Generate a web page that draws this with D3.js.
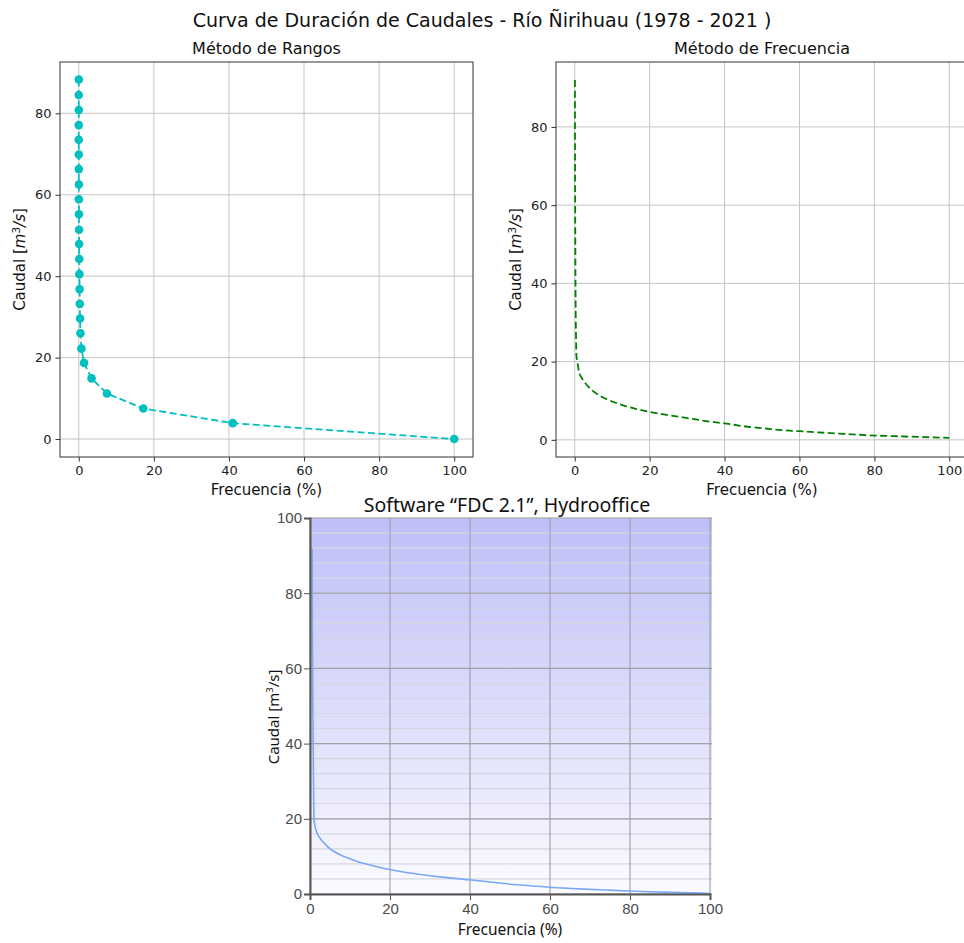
<!DOCTYPE html>
<html>
<head>
<meta charset="utf-8">
<script src="https://cdn.jsdelivr.net/npm/d3@7"></script>
<style>
  body { margin: 0; background: #fff; }
  svg { display: block; }
</style>
</head>
<body>
<div id="chart"></div>
<script>
// Data
const rangosFreq = [0, 0, 0, 0, 0, 0, 0, 0.02, 0.03, 0.05, 0.07, 0.1, 0.13, 0.17, 0.22, 0.28, 0.35, 0.45, 0.7, 1.4, 3.4, 7.5, 17.2, 41.0, 100];
const rangosQ = [88.3, 84.5, 80.8, 77.1, 73.5, 69.9, 66.3, 62.5, 58.9, 55.2, 51.4, 47.9, 44.2, 40.5, 36.8, 33.2, 29.6, 26.0, 22.2, 18.7, 14.9, 11.2, 7.5, 3.9, 0];

const freqX = [0.05, 0.08, 0.12, 0.18, 0.25, 0.35, 0.45, 0.7, 1.15, 2.0, 2.9, 4.5, 6.5, 9.5, 12.7, 16, 19.8, 25, 30.5, 35, 40, 45, 51, 55, 60, 65, 70.6, 75, 80, 85, 90, 95, 100];
const freqQ = [92.0, 75, 60, 45, 34, 26, 21.5, 20.0, 17.4, 15.6, 14.4, 12.8, 11.4, 10.0, 8.9, 8.0, 7.2, 6.3, 5.5, 4.8, 4.2, 3.5, 2.9, 2.5, 2.2, 1.9, 1.6, 1.35, 1.1, 0.95, 0.8, 0.65, 0.5];

const hydroX = [0.55, 0.6, 0.7, 0.85, 1.0, 1.3, 1.8, 2.6, 3.5, 4.6, 6.0, 8.0, 10.2, 12.2, 14.3, 17, 20, 23, 26.8, 33, 39.7, 45, 50.2, 55, 59.8, 64, 68.5, 74, 79.8, 85, 90, 95, 100];
const hydroQ = [91.8, 70, 50, 33, 20.0, 17.8, 16.1, 14.7, 13.6, 12.4, 11.3, 10.2, 9.3, 8.5, 7.9, 7.2, 6.5, 5.9, 5.3, 4.5, 3.8, 3.2, 2.6, 2.2, 1.8, 1.55, 1.3, 1.05, 0.8, 0.6, 0.45, 0.3, 0.15];

const xTicks = [0, 20, 40, 60, 80, 100];
const yTicksTop = [0, 20, 40, 60, 80];
const yTicksBottom = [0, 20, 40, 60, 80, 100];
const yMinorBottom = d3.range(0, 101, 4);

const W = 964, H = 943;
const MPL_FONT = "DejaVu Sans, sans-serif";

const svg = d3.select("#chart").append("svg")
    .attr("width", W)
    .attr("height", H);

// Main title
svg.append("text")
    .attr("x", 482).attr("y", 27)
    .attr("text-anchor", "middle")
    .style("font-family", MPL_FONT)
    .style("font-size", "19px")
    .attr("fill", "#111")
    .text("Curva de Duración de Caudales - Río Ñirihuau (1978 - 2021 )");

// Matplotlib-style panel
function mplPanel(opt) {
    const x = d3.scaleLinear().domain(opt.xDomain).range([opt.left, opt.right]);
    const y = d3.scaleLinear().domain(opt.yDomain).range([opt.bottom, opt.top]);
    const g = svg.append("g");

    // grid
    g.selectAll(".gx").data(xTicks).join("line")
        .attr("x1", d => x(d)).attr("x2", d => x(d))
        .attr("y1", opt.top).attr("y2", opt.bottom)
        .attr("stroke", "#c4c4c4").attr("stroke-width", 1);
    g.selectAll(".gy").data(yTicksTop).join("line")
        .attr("x1", opt.left).attr("x2", opt.right)
        .attr("y1", d => y(d)).attr("y2", d => y(d))
        .attr("stroke", "#c4c4c4").attr("stroke-width", 1);

    opt.draw(g, x, y);

    // frame
    g.append("rect")
        .attr("x", opt.left).attr("y", opt.top)
        .attr("width", opt.right - opt.left).attr("height", opt.bottom - opt.top)
        .attr("fill", "none").attr("stroke", "#333").attr("stroke-width", 1);

    // axes
    g.append("g")
        .attr("transform", `translate(0,${opt.bottom})`)
        .call(d3.axisBottom(x).tickValues(xTicks).tickSize(4.5).tickPadding(4))
        .call(a => a.select(".domain").remove())
        .call(a => a.selectAll("line").attr("stroke", "#333"))
        .call(a => a.selectAll("text").style("font-family", MPL_FONT).style("font-size", "13px").attr("fill", "#222"));
    g.append("g")
        .attr("transform", `translate(${opt.left},0)`)
        .call(d3.axisLeft(y).tickValues(yTicksTop).tickSize(4.5).tickPadding(4))
        .call(a => a.select(".domain").remove())
        .call(a => a.selectAll("line").attr("stroke", "#333"))
        .call(a => a.selectAll("text").style("font-family", MPL_FONT).style("font-size", "13px").attr("fill", "#222"));

    // subtitle
    g.append("text")
        .attr("x", (opt.left + opt.titleRight) / 2).attr("y", 54)
        .attr("text-anchor", "middle")
        .style("font-family", MPL_FONT).style("font-size", "16px").attr("fill", "#111")
        .text(opt.title);

    // x label
    g.append("text")
        .attr("x", x(50)).attr("y", 495)
        .attr("text-anchor", "middle")
        .style("font-family", MPL_FONT).style("font-size", "15px").attr("fill", "#111")
        .text("Frecuencia (%)");

    // y label
    const yl = g.append("text")
        .attr("transform", `translate(${opt.left - 35},${(opt.top + opt.bottom) / 2}) rotate(-90)`)
        .attr("text-anchor", "middle")
        .style("font-family", MPL_FONT).style("font-size", "15px").attr("fill", "#111");
    yl.append("tspan").text("Caudal [");
    yl.append("tspan").style("font-style", "italic").text("m");
    yl.append("tspan").attr("dy", -5).style("font-size", "10.5px").text("3");
    yl.append("tspan").attr("dy", 5).style("font-style", "italic").text("/s");
    yl.append("tspan").text("]");
}

// Método de Rangos
mplPanel({
    left: 60, right: 473, top: 62, bottom: 457, titleRight: 473,
    xDomain: [-5, 105], yDomain: [-4.41, 92.6],
    title: "Método de Rangos",
    draw: (g, x, y) => {
        const pts = rangosFreq.map((f, i) => [f, rangosQ[i]]);
        g.append("path")
            .datum(pts)
            .attr("fill", "none")
            .attr("stroke", "#00bfbf")
            .attr("stroke-width", 1.8)
            .attr("stroke-dasharray", "7,3.5")
            .attr("d", d3.line().x(d => x(d[0])).y(d => y(d[1])));
        g.selectAll(".pt").data(pts).join("circle")
            .attr("cx", d => x(d[0])).attr("cy", d => y(d[1]))
            .attr("r", 4.3)
            .attr("fill", "#00bfbf");
    }
});

// Método de Frecuencia
mplPanel({
    left: 556, right: 968, top: 62, bottom: 457, titleRight: 968,
    xDomain: [-5, 105], yDomain: [-4.39, 96.6],
    title: "Método de Frecuencia",
    draw: (g, x, y) => {
        const pts = freqX.map((f, i) => [f, freqQ[i]]);
        g.append("path")
            .datum(pts)
            .attr("fill", "none")
            .attr("stroke", "#008000")
            .attr("stroke-width", 1.8)
            .attr("stroke-dasharray", "7,3.5")
            .attr("d", d3.line().curve(d3.curveMonotoneX).x(d => x(d[0])).y(d => y(d[1])));
    }
});

// Software FDC 2.1 panel
(function () {
    const L = 310, R = 710, T = 518, B = 894;
    const x = d3.scaleLinear().domain([0, 100]).range([L, R]);
    const y = d3.scaleLinear().domain([0, 100]).range([B, T]);
    const g = svg.append("g");

    const grad = svg.append("defs").append("linearGradient")
        .attr("id", "bgGrad").attr("x1", 0).attr("x2", 0).attr("y1", 0).attr("y2", 1);
    grad.append("stop").attr("offset", "0%").attr("stop-color", "#bfbff9");
    grad.append("stop").attr("offset", "50%").attr("stop-color", "#dcdcfb");
    grad.append("stop").attr("offset", "100%").attr("stop-color", "#fbfbff");

    g.append("rect")
        .attr("x", L).attr("y", T).attr("width", R - L + 2).attr("height", B - T)
        .attr("fill", "url(#bgGrad)");

    // minor horizontal grid
    g.selectAll(".minor").data(yMinorBottom).join("line")
        .attr("x1", L).attr("x2", R + 2)
        .attr("y1", d => y(d)).attr("y2", d => y(d))
        .attr("stroke", "#d6d6e2").attr("stroke-width", 1.2);
    // major grid
    g.selectAll(".majY").data(yTicksBottom).join("line")
        .attr("x1", L).attr("x2", R + 2)
        .attr("y1", d => y(d)).attr("y2", d => y(d))
        .attr("stroke", "#a2a2aa").attr("stroke-width", 1.2);
    g.selectAll(".majX").data(xTicks).join("line")
        .attr("x1", d => x(d)).attr("x2", d => x(d))
        .attr("y1", T).attr("y2", B)
        .attr("stroke", "#a2a2aa").attr("stroke-width", 1.2);

    // curve
    const pts = hydroX.map((f, i) => [f, hydroQ[i]]);
    g.append("path")
        .datum(pts)
        .attr("fill", "none")
        .attr("stroke", "#7aa8f7")
        .attr("stroke-width", 1.6)
        .attr("d", d3.line().curve(d3.curveMonotoneX).x(d => x(d[0])).y(d => y(d[1])));

    // axes
    const tickFont = "Liberation Sans Narrow, Arial Narrow, Liberation Sans, sans-serif";
    g.append("g")
        .attr("transform", `translate(${L},0)`)
        .call(d3.axisLeft(y).tickValues(yTicksBottom).tickSize(6).tickPadding(2))
        .call(a => a.select(".domain").attr("stroke", "#555").attr("stroke-width", 2))
        .call(a => a.selectAll("line").attr("stroke", "#555"))
        .call(a => a.selectAll("text").style("font-family", tickFont).style("font-size", "15px").style("font-stretch", "condensed").attr("fill", "#4a4a4a"));
    g.append("g")
        .attr("transform", `translate(0,${B})`)
        .call(d3.axisBottom(x).tickValues(xTicks).tickSize(6).tickPadding(3))
        .call(a => a.select(".domain").attr("stroke", "#555").attr("stroke-width", 2))
        .call(a => a.selectAll("line").attr("stroke", "#555"))
        .call(a => a.selectAll("text").style("font-family", tickFont).style("font-size", "15px").style("font-stretch", "condensed").attr("fill", "#4a4a4a"));

    const labFont = "Noto Sans, Open Sans, sans-serif";
    svg.append("text")
        .attr("x", 507).attr("y", 512)
        .attr("text-anchor", "middle")
        .style("font-family", labFont).style("font-size", "19.5px").attr("fill", "#111")
        .text("Software “FDC 2.1”, Hydrooffice");

    svg.append("text")
        .attr("x", x(50)).attr("y", 935)
        .attr("text-anchor", "middle")
        .style("font-family", labFont).style("font-size", "15.5px").attr("fill", "#111")
        .text("Frecuencia (%)");

    const yl = svg.append("text")
        .attr("transform", `translate(279,717) rotate(-90)`)
        .attr("text-anchor", "middle")
        .style("font-family", labFont).style("font-size", "15px").attr("fill", "#111");
    yl.append("tspan").text("Caudal [m");
    yl.append("tspan").attr("dy", -6).style("font-size", "9.5px").text("3");
    yl.append("tspan").attr("dy", 6).text("/s]");
})();
</script>
</body>
</html>
